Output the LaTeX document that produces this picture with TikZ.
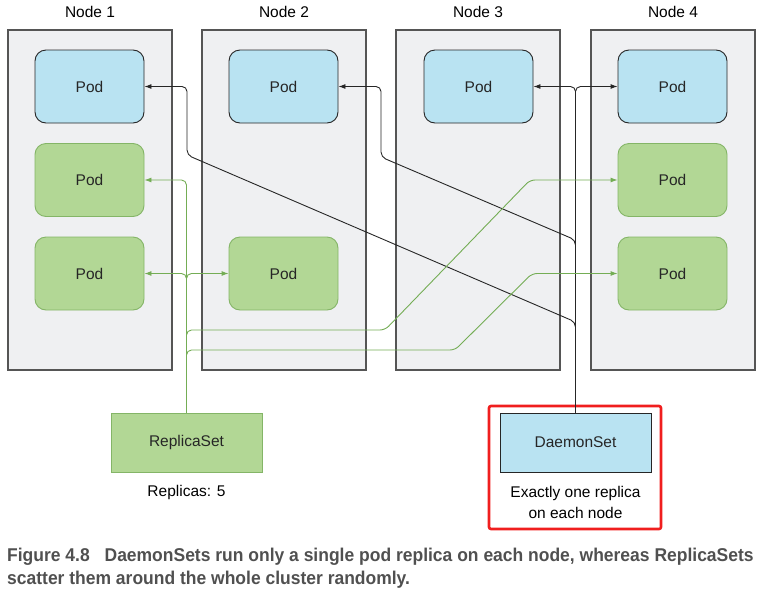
\documentclass[tikz,border=0pt]{standalone}
\usepackage{fontspec}
\setmainfont{Liberation Sans}
\newfontfamily\capfont{Liberation Sans}[FakeStretch=0.945]
\usetikzlibrary{arrows.meta, positioning}
\definecolor{podblue}{HTML}{B9E3F2}
\definecolor{podgreen}{HTML}{B2D795}
\definecolor{grnline}{HTML}{74AD55}
\definecolor{grnedge}{HTML}{84B567}
\definecolor{nodefill}{HTML}{EFF0F2}
\definecolor{nodeedge}{HTML}{555555}
\definecolor{dkline}{HTML}{262626}
\definecolor{captxt}{HTML}{505050}
\definecolor{frred}{HTML}{F01E1E}

\begin{document}
\begin{tikzpicture}[x=1pt, y=-1pt, font=\fontsize{15.5pt}{18pt}\selectfont,
  >={Latex[length=7pt, width=5pt]},
  clnode/.style={draw=nodeedge, fill=nodefill, line width=1.3pt,
    minimum width=164pt, minimum height=340pt},
  bluepod/.style={draw=dkline, fill=podblue, line width=0.9pt, rounded corners=11pt,
    minimum width=109pt, minimum height=73pt, text=black!85},
  greenpod/.style={draw=grnedge, fill=podgreen, line width=0.9pt, rounded corners=11pt,
    minimum width=109pt, minimum height=73pt, text=black!85},
  setbox/.style 2 args={draw=#1, fill=#2, line width=0.9pt,
    minimum width=151pt, minimum height=59pt, text=black!85},
  dsline/.style={draw=dkline, line width=0.9pt, rounded corners=5pt},
  rsline/.style={draw=grnline, line width=0.9pt, rounded corners=5pt}
  ]

\useasboundingbox (0,0) rectangle (763,592);

% --- Cluster nodes ---
\node[clnode] (n1) at (90,200) {};
\node[clnode] (n2) at (284,200) {};
\node[clnode] (n3) at (478,200) {};
\node[clnode] (n4) at (673,200) {};

\node (l1) at (90,12) {Node 1};
\node (l2) at (284,12) {Node 2};
\node (l3) at (478,12) {Node 3};
\node (l4) at (673,12) {Node 4};

% --- Pods ---
\node[bluepod] (p11) at (89.5,86.5) {Pod};
\node[greenpod] (p12) at (89.5,180) {Pod};
\node[greenpod] (p13) at (89.5,273.5) {Pod};
\node[bluepod] (p21) at (283.5,86.5) {Pod};
\node[greenpod] (p23) at (283.5,273.5) {Pod};
\node[bluepod] (p31) at (478.5,86.5) {Pod};
\node[bluepod] (p41) at (672.5,86.5) {Pod};
\node[greenpod] (p42) at (672.5,180) {Pod};
\node[greenpod] (p43) at (672.5,273.5) {Pod};

% --- ReplicaSet and DaemonSet ---
\node[setbox={grnedge}{podgreen}] (rs) at (186.5,442.5) {ReplicaSet};
\node (rsnote) at (186.5,492) {Replicas: 5};

\node[setbox={dkline}{podblue}] (ds) at (575.5,442.5) {DaemonSet};
\node[align=center, font=\fontsize{15.5pt}{21pt}\selectfont] (dsnote) at (575.5,502.5)
  {Exactly one replica\\on each node};

\node[draw=frred, line width=2.6pt, rounded corners=2pt,
  minimum width=172pt, minimum height=123pt] (frame) at (575,467.5) {};

% DaemonSet: one pod per node
\draw[dsline, ->] (ds.north) -- (575.5,322) -- (187,155) -- (187,86.5) -- (p11.east);
\draw[dsline, ->] (ds.north) -- (575.5,240) -- (381,157) -- (381,86.5) -- (p21.east);
\draw[dsline, ->] (ds.north) -- (575.5,86.5) -- (p31.east);
\draw[dsline, ->] (ds.north) -- (575.5,86.5) -- (p41.west);

% ReplicaSet: pods scattered around
\draw[rsline, ->] (rs.north) -- (186.5,180) -- (p12.east);
\draw[rsline, ->] (rs.north) -- (186.5,273.5) -- (p13.east);
\draw[rsline, ->] (rs.north) -- (186.5,273.5) -- (p23.west);
\draw[rsline, ->] (rs.north) -- (186.5,330) -- (385,330) -- (530,180) -- (p42.west);
\draw[rsline, ->] (rs.north) -- (186.5,350) -- (455,350) -- (532,273.5) -- (p43.west);

% Caption
\node[anchor=north west, align=left, text=captxt, inner sep=0pt,
  font=\capfont\bfseries\fontsize{18.5pt}{23pt}\selectfont] (cap) at (7,548)
  {Figure 4.8\hspace{10pt} DaemonSets run only a single pod replica on each node, whereas ReplicaSets\\
   scatter them around the whole cluster randomly.};

\end{tikzpicture}
\end{document}
